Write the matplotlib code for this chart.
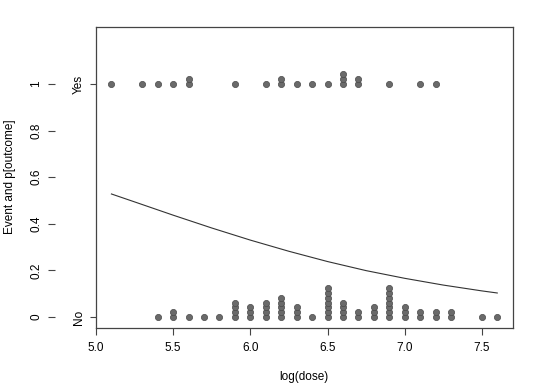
import matplotlib
matplotlib.use("Agg")
import matplotlib.pyplot as plt

plt.rcParams["font.family"] = ["Liberation Sans", "DejaVu Sans"]

# log(dose) of the events (outcome = Yes) and non-events (outcome = No)
yes_dose = [5.1, 5.3, 5.4, 5.5, 5.6, 5.6, 5.9, 6.1, 6.2, 6.2, 6.3, 6.4,
            6.5, 6.6, 6.6, 6.6, 6.7, 6.7, 6.9, 7.1, 7.2]
no_levels = [5.4, 5.5, 5.6, 5.7, 5.8, 5.9, 6.0, 6.1, 6.2, 6.3, 6.4,
             6.5, 6.6, 6.7, 6.8, 6.9, 7.0, 7.1, 7.2, 7.3, 7.5, 7.6]
no_counts = [1, 2, 1, 1, 1, 4, 3, 4, 5, 3, 1,
             7, 4, 2, 3, 7, 3, 2, 2, 2, 1, 1]

# fitted p[outcome]
curve_dose = [5.1, 5.25, 5.5, 5.75, 6.0, 6.25, 6.5, 6.75, 7.0, 7.25, 7.5, 7.6]
curve_p = [0.528, 0.494, 0.437, 0.382, 0.330, 0.282, 0.238, 0.199,
           0.166, 0.137, 0.112, 0.103]

x_ticks = [5.0, 5.5, 6.0, 6.5, 7.0, 7.5]
p_ticks = [0, 0.2, 0.4, 0.6, 0.8, 1]
p_labels = ["0", "0.2", "0.4", "0.6", "0.8", "1"]

STEP = 0.0205
GREY = "#444444"
YLIM = (-0.046, 1.246)


def stacked(doses, base):
    """stripchart(method='stack') style: repeat values pile upwards."""
    seen = {}
    ys = []
    for d in doses:
        k = seen.get(d, 0)
        ys.append(base + k * STEP)
        seen[d] = k + 1
    return ys


no_dose = [d for d, n in zip(no_levels, no_counts) for _ in range(n)]

fig = plt.figure(figsize=(5.4, 3.83), dpi=100)
pos = [96 / 540, 1 - 327.7 / 383, (512.7 - 96) / 540, 301 / 383]

# numeric probability axis pushed out to the left (drawn first, underneath)
ax2 = fig.add_axes(pos, frameon=False)
ax2.patch.set_visible(False)
ax2.xaxis.set_visible(False)
ax2.set_ylim(*YLIM)
ax2.spines["left"].set_visible(True)
ax2.spines["left"].set_position(("outward", 29.5))
ax2.spines["left"].set_bounds(0, 1)
ax2.spines["left"].set_color(GREY)
ax2.spines["left"].set_linewidth(0.9)
for side in ["right", "top", "bottom"]:
    ax2.spines[side].set_visible(False)
ax2.set_yticks(p_ticks, p_labels)
ax2.tick_params(axis="y", length=5, pad=4, labelsize=8.5, color=GREY)
for t in ax2.get_yticklabels():
    t.set_rotation(90)
    t.set_va("center")

ax = fig.add_axes(pos)
ax.patch.set_visible(False)
ax.scatter(yes_dose, stacked(yes_dose, 1), s=20, color="#6a6a6a",
           edgecolor="#4a4a4a", linewidth=0.5, zorder=3)
ax.scatter(no_dose, stacked(no_dose, 0), s=20, color="#6a6a6a",
           edgecolor="#4a4a4a", linewidth=0.5, zorder=3)
ax.plot(curve_dose, curve_p, color="#333333", linewidth=0.8)

ax.set_xlim(5.0, 7.7)
ax.set_ylim(*YLIM)
for s in ax.spines.values():
    s.set_color(GREY)
    s.set_linewidth(0.9)

ax.set_xticks(x_ticks, [f"{v:.1f}" for v in x_ticks])
ax.tick_params(axis="x", length=5, pad=5, labelsize=8.5, color=GREY)
ax.set_yticks([0, 1], ["No", "Yes"])
ax.tick_params(axis="y", length=4.3, pad=3.5, labelsize=8.5, color=GREY)
for t in ax.get_yticklabels():
    t.set_rotation(90)
    t.set_va("center")

fig.text(304 / 540, 1 - 377 / 383, "log(dose)", ha="center", va="center",
         fontsize=8.5)
fig.text(10 / 540, 1 - 177 / 383, "Event and p[outcome]", ha="center",
         va="center", rotation=90, fontsize=8.5)

fig.savefig("out.png", dpi=100)
